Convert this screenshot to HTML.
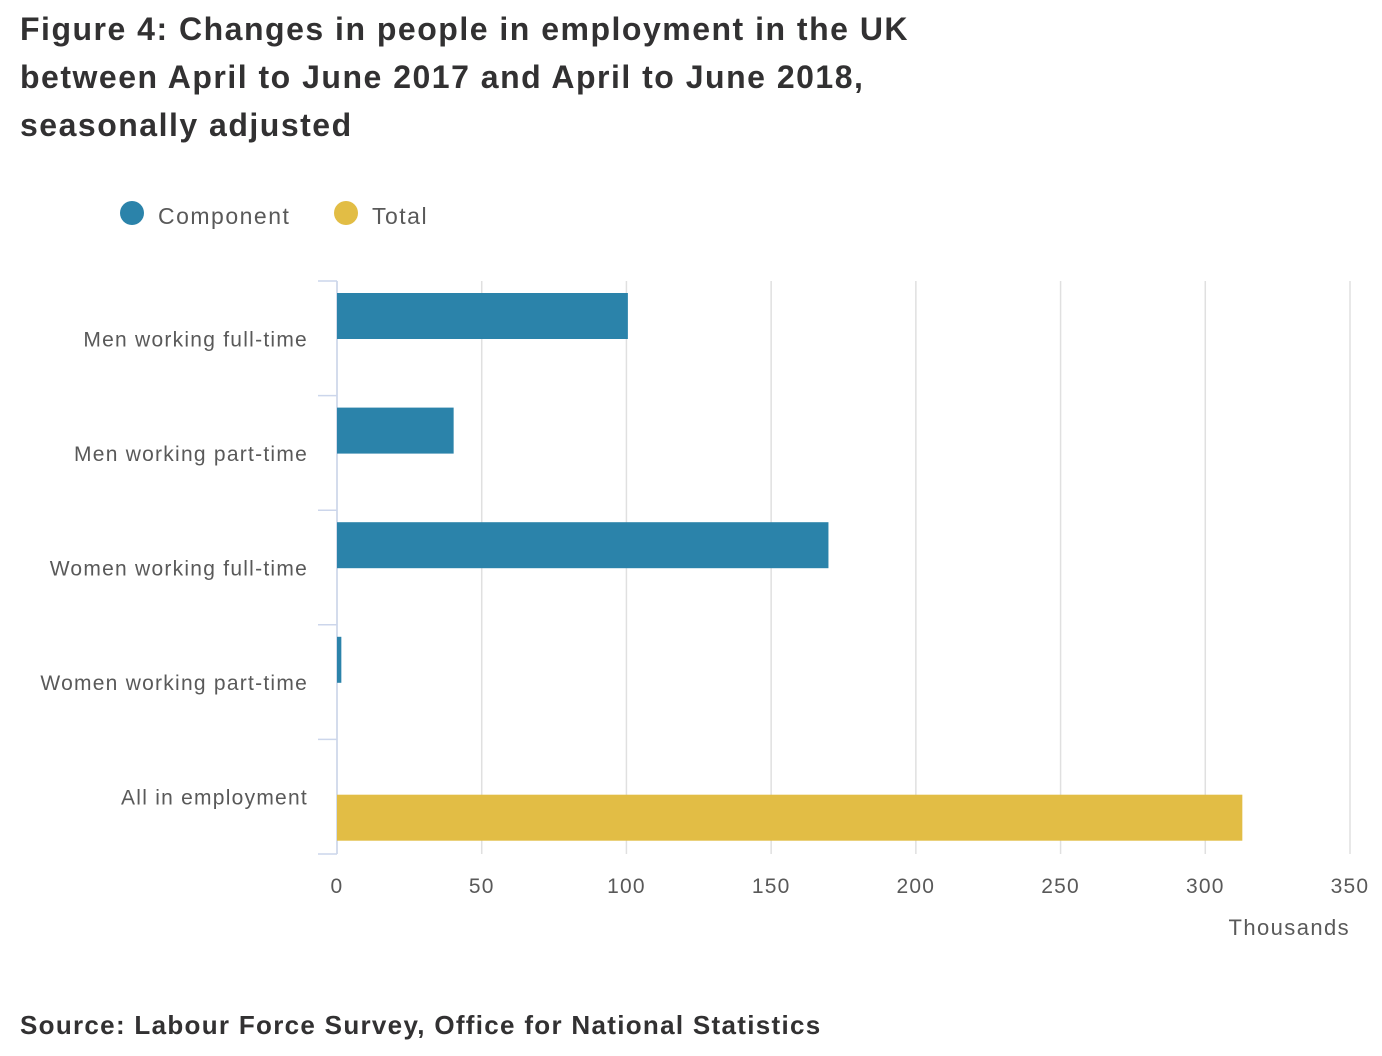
<!DOCTYPE html>
<html><head><meta charset="utf-8"><style>
body{margin:0;background:#fff;width:1382px;height:1056px;overflow:hidden;font-family:"Liberation Sans",sans-serif}
.t{position:absolute;left:20px;top:5px;font-size:32px;font-weight:bold;color:#323132;line-height:48px;margin:0;letter-spacing:1.5px}
.s{position:absolute;left:20px;top:1010px;font-size:26px;font-weight:bold;color:#323132;letter-spacing:1.3px}
</style></head><body>
<h1 class="t">Figure 4: Changes in people in employment in the UK<br>between April to June 2017 and April to June 2018,<br>seasonally adjusted</h1>
<svg id="c" width="1382" height="1000" style="position:absolute;left:0;top:0"></svg>
<div class="s">Source: Labour Force Survey, Office for National Statistics</div>
<script>
const categories=["Men working full-time","Men working part-time","Women working full-time","Women working part-time","All in employment"];
const componentValues=[100.5,40.3,169.8,1.5,null];
const totalValues=[null,null,null,null,312.8];
const xTicks=[0,50,100,150,200,250,300,350];
const svg=document.getElementById('c');const NS='http://www.w3.org/2000/svg';
const x0=337,x1=1350,y0=281,y1=854,xmax=350;
const xs=v=>x0+(x1-x0)*v/xmax;
const band=(y1-y0)/categories.length;
function mk(t,a,txt){const e=document.createElementNS(NS,t);for(const k in a)e.setAttribute(k,a[k]);if(txt!=null)e.textContent=txt;svg.appendChild(e);return e;}
xTicks.forEach(v=>{
 const g=mk('line',{x1:xs(v),x2:xs(v),y1:y0,y2:y1,stroke:'#e0e0e0','stroke-width':1.5});
 
 const t=mk('text',{x:xs(v),y:893,'text-anchor':'middle','font-size':21,fill:'#595959','font-family':'Liberation Sans','letter-spacing':1.2},v);
 
});
const ax=mk('line',{x1:x0,x2:x0,y1:y0,y2:y1,stroke:'#ccd6eb','stroke-width':1.5});

for(let i=0;i<=categories.length;i++){const y=y0+band*i;const tk=mk('line',{x1:318,x2:x0,y1:y,y2:y,stroke:'#ccd6eb','stroke-width':1.5});
 }
categories.forEach((c,i)=>{
 const t=mk('text',{x:308,y:y0+band*i+band/2+8,'text-anchor':'end','font-size':21,fill:'#595959','font-family':'Liberation Sans','letter-spacing':1.25},c);
 
 if(componentValues[i]!=null){const r=mk('rect',{x:x0,y:y0+band*i+12,width:xs(componentValues[i])-x0,height:46,fill:'#2b83aa'});
  }
 if(totalValues[i]!=null){const r=mk('rect',{x:x0,y:y0+band*i+band/2-2,width:xs(totalValues[i])-x0,height:46,fill:'#e2bd45'});
  }
});
const xt=mk('text',{x:1350,y:935,'text-anchor':'end','font-size':22,fill:'#595959','font-family':'Liberation Sans','letter-spacing':1.4},'Thousands');

const l1=mk('circle',{cx:132,cy:213,r:12,fill:'#2b83aa'});
const l2=mk('text',{x:158,y:224,'font-size':23,fill:'#595959','font-family':'Liberation Sans','letter-spacing':1.5},'Component');
const l3=mk('circle',{cx:346,cy:213,r:12,fill:'#e2bd45'});
const l4=mk('text',{x:372,y:224,'font-size':23,fill:'#595959','font-family':'Liberation Sans','letter-spacing':1.5},'Total');
</script>
</body></html>
